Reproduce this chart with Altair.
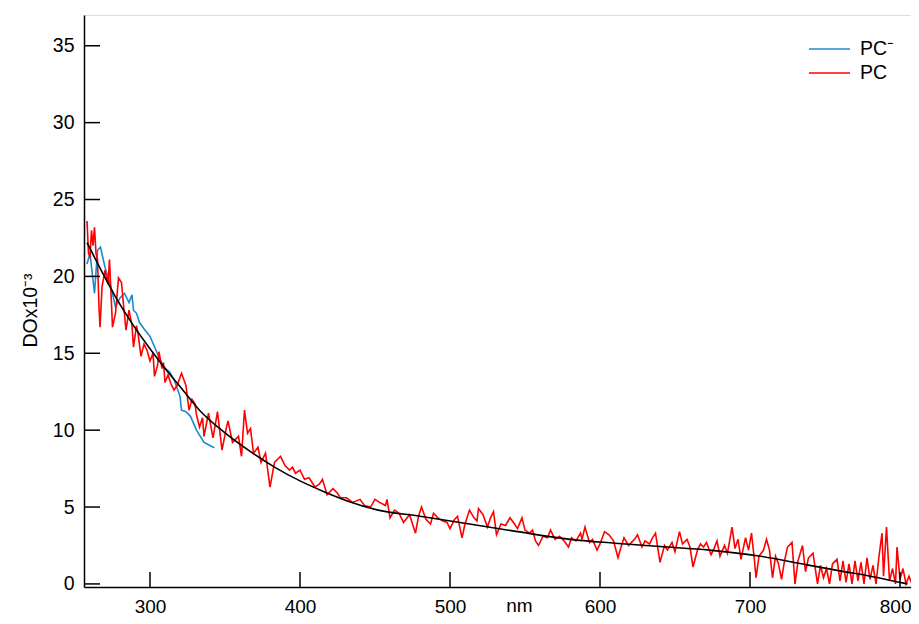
import altair as alt
import pandas as pd

# ---------------- data ----------------
red_x = [258, 259, 260, 261, 262, 263, 264, 265, 266, 266.7, 268, 270, 272, 273, 275, 277, 279, 281, 282, 284,
         286, 288, 289, 291, 292, 294, 296, 298, 300, 302, 303, 305, 306, 308, 309, 310, 312, 314, 316, 318,
         321, 324, 326, 328, 330, 331, 333, 335, 336, 339, 342, 345, 348, 351, 352, 355, 357, 359, 361, 363,
         365, 367, 369, 372, 374, 377, 380, 383, 387, 390, 393, 395, 397, 400, 403, 406, 410, 413, 415, 418,
         422, 425, 427, 431, 435, 440, 443, 447, 450, 453, 457, 458, 460, 463, 466, 469, 473, 477, 479, 481,
         484, 487, 489, 492, 495, 498, 500, 503, 505, 508, 510, 513, 516, 518, 519, 522, 525, 527, 529, 531,
         534, 537, 540, 543, 545, 548, 550, 553, 555, 557, 559, 562, 565, 567, 570, 573, 576, 579, 581, 584,
         587, 588, 590, 593, 595, 598, 600, 603, 606, 609, 612, 614, 616, 619, 621, 623, 625, 628, 630, 633,
         635, 637, 640, 643, 645, 648, 650, 653, 655, 658, 660, 662, 665, 667, 669, 671, 674, 676, 678, 680,
         683, 685, 688, 690, 692, 694, 697, 699, 701, 703, 704, 706, 709, 711, 713, 715, 717, 719, 721, 723,
         725, 728, 730, 732, 735, 737, 739, 742, 745, 747, 749, 751, 753, 755, 758, 760, 762, 764, 766, 768,
         770, 772, 774, 776, 778, 780, 782, 784, 786, 788, 789, 791, 793, 795, 797, 798, 800, 802, 804, 806,
         808, 809, 811]
red_y = [23.6, 21.5, 21.3, 23.0, 22.0, 23.2, 21.5, 21.1, 18.0, 16.7, 19.3, 20.4, 19.5, 21.1, 16.7, 17.6, 19.9, 19.6, 18.5, 16.5,
         17.8, 16.8, 15.4, 16.8, 16.3, 14.8, 15.6, 15.2, 14.5, 15.0, 13.5, 14.2, 15.1, 14.0, 14.4, 13.1, 13.6, 13.0, 12.6, 12.9,
         13.7, 12.9, 11.3, 12.0, 11.7, 11.0, 10.2, 10.8, 9.6, 11.1, 9.5, 11.2, 8.7, 10.2, 10.6, 9.2, 9.4, 9.6, 8.3, 11.3,
         9.8, 10.1, 8.5, 8.9, 7.9, 8.5, 6.3, 7.9, 8.3, 7.7, 7.4, 7.6, 7.2, 7.4, 6.8, 6.9, 6.3, 6.5, 6.8, 5.8,
         6.2, 5.9, 5.6, 5.6, 5.3, 5.5, 5.1, 5.0, 5.5, 5.3, 5.1, 5.5, 4.3, 4.8, 4.6, 4.0, 4.5, 3.3, 4.4, 5.0,
         4.2, 3.9, 4.6, 4.3, 4.1, 4.0, 3.6, 4.2, 4.4, 3.0, 3.9, 4.8, 4.3, 4.1, 4.9, 4.5, 3.7, 4.3, 4.7, 3.2,
         3.9, 3.8, 4.3, 3.9, 3.6, 4.3, 3.5, 3.3, 3.5, 2.8, 2.5, 3.1, 3.0, 3.5, 2.9, 3.1, 2.8, 2.4, 3.0, 2.8,
         3.3, 2.9, 3.7, 2.7, 2.9, 2.2, 2.6, 3.4, 3.2, 2.8, 1.7, 2.4, 3.0, 2.5, 2.7, 2.9, 3.2, 2.4, 2.8, 2.6,
         3.0, 3.3, 1.4, 2.5, 2.2, 2.7, 2.1, 3.4, 2.6, 2.9, 2.4, 1.1, 2.2, 2.6, 2.4, 2.7, 1.9, 2.3, 2.8, 1.8,
         2.5, 2.0, 3.7, 2.3, 2.9, 1.6, 3.0, 2.2, 3.3, 1.5, 0.4, 1.8, 2.2, 2.9, 2.2, 0.4, 1.8, 1.3, 0.3, 1.5,
         2.4, 2.7, 0.0, 1.5, 2.5, 0.8, 1.7, 2.0, 0.0, 1.2, 0.4, 1.0, 0.0, 1.3, 1.6, 0.2, 1.5, 0.1, 1.3, 0.0,
         1.5, 0.2, 1.4, 0.0, 1.7, 0.3, 1.2, 0.0, 1.8, 3.3, 0.5, 3.7, 0.2, 1.0, 0.0, 2.4, 0.3, 1.0, 0.0, 0.5,
         0.0, 3.0, 0.0]

blue_x = [258, 260, 263, 265, 267, 270, 274, 277, 280, 283, 286, 288, 289, 291, 293, 296, 300, 304, 309, 313,
          316, 320, 321, 324, 327, 331, 336, 340, 343]
blue_y = [20.8, 21.5, 18.9, 21.7, 21.9, 20.6, 19.3, 18.0, 18.6, 18.9, 18.3, 18.8, 17.8, 17.6, 17.0, 16.6, 16.1, 15.2, 14.1, 13.8,
          13.3, 12.2, 11.3, 11.2, 10.9, 10.0, 9.2, 9.0, 8.85]

fit_x = [258, 268, 278, 289, 300, 311, 322, 333, 349, 367, 383, 400, 416, 433, 450, 480, 513, 545, 580, 610,
         640, 673, 707, 738, 760, 782, 805]
fit_y = [22.2, 20.3, 18.5, 16.8, 15.3, 13.9, 12.6, 11.3, 9.9, 8.6, 7.6, 6.7, 6.0, 5.35, 4.85, 4.4, 3.9, 3.4, 2.9, 2.65,
         2.43, 2.2, 1.8, 1.24, 0.85, 0.47, 0.0]

series_names = ["PC\u207b", "PC"]
series_colors = ["#1a8ad0", "#ff0000"]

x_ticks = [300, 400, 500, 600, 700, 800]
y_ticks = [0, 5, 10, 15, 20, 25, 30, 35]

# ---------------- build tables ----------------
spec_df = pd.concat([
    pd.DataFrame({"nm": blue_x, "val": blue_y, "series": series_names[0], "k": 0}),
    pd.DataFrame({"nm": red_x, "val": red_y, "series": series_names[1], "k": 1}),
])
fit_df = pd.DataFrame({"nm": fit_x, "val": fit_y})
xt_df = pd.DataFrame({"t": x_ticks})
yt_df = pd.DataFrame({"t": y_ticks})

W, H = 827, 572
FONT = "Liberation Sans"

xscale = alt.Scale(domain=[256, 807.33], nice=False, zero=False)
yscale = alt.Scale(domain=[-0.2, 37], nice=False, zero=False)

last_tick = "datum.value == %d" % x_ticks[-1]

xaxis = alt.Axis(values=x_ticks, ticks=False, tickSize=0, grid=False, labelPadding=10,
                 labelFontSize=19, labelFont=FONT, labelColor="black",
                 labelAlign=alt.condition(last_tick, alt.value("right"), alt.value("center")),
                 labelOffset=alt.condition(last_tick, alt.value(11), alt.value(0)),
                 domainColor="black", domainWidth=1.5,
                 title="nm", titleFont=FONT, titleFontSize=19, titleFontWeight="normal",
                 titleColor="black", titleX=435, titleY=24, titleBaseline="alphabetic")
yaxis = alt.Axis(values=y_ticks, ticks=False, tickSize=0, grid=False, labelPadding=10,
                 labelFontSize=19.5, labelFont=FONT, labelColor="black",
                 domainColor="black", domainWidth=1.5,
                 title="DOx10\u207b\u00b3", titleFont=FONT, titleFontSize=19.5, titleFontWeight="normal",
                 titleColor="black", titleAngle=270, titleX=-48, titleY=295,
                 titleAlign="center", titleBaseline="alphabetic")

lines = alt.Chart(spec_df).mark_line(strokeWidth=1.6, clip=True).encode(
    x=alt.X("nm:Q", scale=xscale, axis=xaxis),
    y=alt.Y("val:Q", scale=yscale, axis=yaxis),
    color=alt.Color("series:N", title=None,
                    scale=alt.Scale(domain=series_names, range=series_colors),
                    legend=alt.Legend(orient="none", legendX=724, legendY=22,
                                      symbolType="stroke", symbolSize=1681, symbolStrokeWidth=1.6,
                                      labelFontSize=19.5, labelFont=FONT, labelColor="black",
                                      labelOffset=9, rowPadding=0, clipHeight=24, padding=0)),
    order=alt.Order("k:Q"),
)

fit = alt.Chart(fit_df).mark_line(color="black", strokeWidth=1.6, interpolate="monotone", clip=True).encode(
    x=alt.X("nm:Q", scale=xscale),
    y=alt.Y("val:Q", scale=yscale),
)

xticks = alt.Chart(xt_df).mark_rule(color="black", strokeWidth=1.5).encode(
    x=alt.X("t:Q", scale=xscale),
    y=alt.value(H - 15),
    y2=alt.value(H),
)
yticks = alt.Chart(yt_df).mark_rule(color="black", strokeWidth=1.5).encode(
    y=alt.Y("t:Q", scale=yscale),
    x=alt.value(0),
    x2=alt.value(16),
)

chart = alt.layer(lines, fit, xticks, yticks).properties(
    width=W, height=H,
    autosize=alt.AutoSizeParams(type="none"),
    padding={"left": 76, "top": 7, "right": 0, "bottom": 29},
).configure_view(stroke=None).configure(background="white")

chart.save("out.html", embed_options={"renderer": "svg", "actions": False})
